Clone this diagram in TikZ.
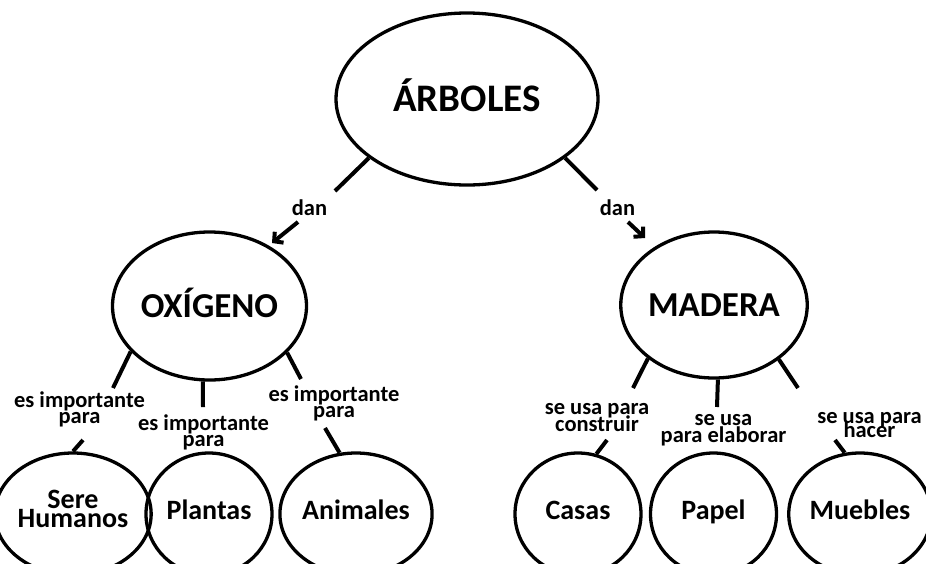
\documentclass[tikz,border=0pt]{standalone}
\usepackage{fontspec}
\setmainfont{Carlito}
\usetikzlibrary{shapes.geometric,arrows.meta}
\newcommand\mytightlines{\lineskiplimit -50pt\relax}
\begin{document}
\begin{tikzpicture}[x=1pt,y=-1pt,
  bubble/.style={ellipse, draw, line width=3.3pt, inner sep=0pt},
  big/.style={bubble, text height=25.4pt, text depth=0pt, font=\fontsize{39}{40}\selectfont\bfseries},
  mid/.style={bubble, text height=22.5pt, text depth=0pt, font=\fontsize{35}{36}\selectfont\bfseries},
  leaf/.style={bubble, minimum width=126pt, minimum height=122pt, align=center,
    text height=18pt, text depth=7pt, font=\fontsize{28}{19}\selectfont\bfseries\mytightlines},
  leaftwo/.style={leaf, text height=26pt, text depth=0pt},
  lbl/.style={inner sep=0pt, align=center, anchor=base, font=\fontsize{22.5}{15.5}\selectfont\bfseries\mytightlines},
  lblwide/.style={lbl, font=\fontsize{22.5}{17}\selectfont\bfseries\mytightlines},
  lblnarrow/.style={lbl, font=\fontsize{22.5}{14}\selectfont\bfseries\mytightlines},
  link/.style={line width=4pt},
  arr/.style={link, -{Straight Barb[length=6.5pt,width=14pt]}}
]
\path[use as bounding box, clip] (0,0) rectangle (926,563);

% main nodes
\node[big, minimum width=262pt, minimum height=172pt] (arb) at (467,99) {ÁRBOLES};
\node[mid, minimum width=171pt, minimum height=148pt] (oxi) at (209.5,306) {OXÍGENO};
\node[mid, minimum width=172pt, minimum height=146pt] (mad) at (714,305) {MADERA};

% leaves
\node[leaftwo] (hum) at (73,514) {Sere\\Humanos};
\node[leaf] (pla) at (209,514) {Plantas};
\node[leaf] (ani) at (356,514) {Animales};
\node[leaf] (cas) at (578,514) {Casas};
\node[leaf] (pap) at (713.5,514) {Papel};
\node[leaf] (mue) at (860,514) {Muebles};

% labels
\node[lbl] (d1) at (309.5,215) {dan};
\node[lbl] (d2) at (617.5,215) {dan};
\node[lbl] (l1) at (79.5,423) {es importante\\para};
\node[lbl] (l2) at (203.5,446) {es importante\\para};
\node[lbl] (l3) at (334,417) {es importante\\para};
\node[lblwide] (l4) at (597,431) {se usa para\\construir};
\node[lblwide] (l5) at (723.5,442) {se usa\\para elaborar};
\node[lblnarrow] (l6) at (869.5,437) {se usa para\\hacer};

% free ends
\coordinate (a1) at (335,191);
\coordinate (a2) at (597,190);
\coordinate (b1s) at (298,222);
\coordinate (b1e) at (272,243);
\coordinate (b2s) at (628,222);
\coordinate (b2e) at (645,238);
\coordinate (o1) at (113,388);
\coordinate (o2) at (203,407);
\coordinate (o3) at (301,379);
\coordinate (h1) at (83,440);
\coordinate (n1) at (325,428);
\coordinate (m1) at (633,388);
\coordinate (m2) at (717,407);
\coordinate (m3) at (798,388);
\coordinate (c1) at (607,440);
\coordinate (u1) at (835,440);

% connectors
\draw[link] (arb.211.8) -- (a1);
\draw[link] (arb.329) -- (a2);
\draw[arr] (b1s) -- (b1e);
\draw[arr] (b2s) -- (b2e);
\draw[link] (oxi.210.4) -- (o1);
\draw[link] (oxi.265) -- (o2);
\draw[link] (oxi.329.9) -- (o3);
\draw[link] (h1) -- (hum.north);
\draw[link] (n1) -- (ani.105);
\draw[link] (mad.219) -- (m1);
\draw[link] (mad.273) -- (m2);
\draw[link] (mad.320.5) -- (m3);
\draw[link] (c1) -- (cas.73);
\draw[link] (u1) -- (mue.104);
\end{tikzpicture}
\end{document}
